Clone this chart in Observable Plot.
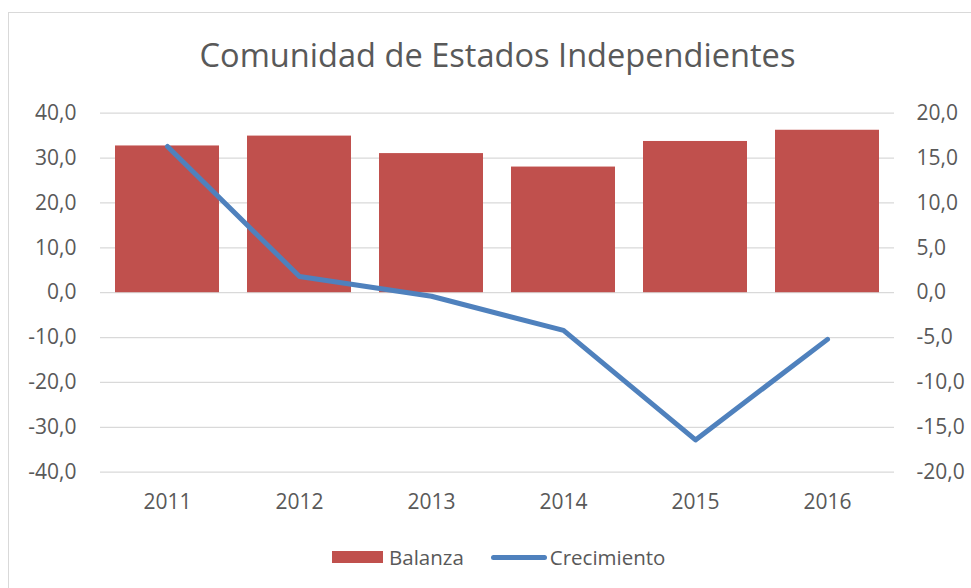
<!DOCTYPE html>
<html>
<head>
<meta charset="utf-8">
<script src="https://cdn.jsdelivr.net/npm/d3@7"></script>
<script src="https://cdn.jsdelivr.net/npm/@observablehq/plot@0.6"></script>
<style>
  html, body { margin: 0; padding: 0; background: #fff; overflow: hidden; }
  #wrap { position: relative; width: 971px; height: 588px; overflow: hidden; font-family: "Open Sans", sans-serif; color: #595959; }
  #frame { position: absolute; left: 8px; top: 12px; width: 1200px; height: 1200px; border: 1px solid #D9D9D9; }
  #title { position: absolute; left: 0; width: 995px; top: 32.5px; text-align: center; font-size: 32.6px; line-height: 1.362; white-space: nowrap; }
  #chart { position: absolute; left: 0; top: 0; }
  #legend { position: absolute; left: 332px; top: 545px; height: 24px; display: flex; align-items: center; font-size: 20.5px; line-height: 24px; }
  .sw-bar { width: 51px; height: 12px; background: #C0504D; margin-right: 6px; }
  .sw-line { width: 56px; height: 5px; border-radius: 3px; background: #4F81BD; margin-left: 27px; margin-right: 3px; }
</style>
</head>
<body>
<div id="wrap">
  <div id="frame"></div>
  <div id="chart"></div>
  <div id="title">Comunidad de Estados Independientes</div>
  <div id="legend">
    <div class="sw-bar"></div><span>Balanza</span>
    <div class="sw-line"></div><span>Crecimiento</span>
  </div>
</div>
<script>
const years = ["2011", "2012", "2013", "2014", "2015", "2016"];
const balanza = [32.7, 34.9, 31.0, 28.0, 33.7, 36.2];
const crecimiento = [16.3, 1.8, -0.4, -4.2, -16.4, -5.2];
const leftTicks = [-40, -30, -20, -10, 0, 10, 20, 30, 40];
const rightFactor = 2; // left axis spans -40..40, right axis -20..20

const barData = years.map((y, i) => ({year: y, value: balanza[i]}));
const lineData = years.map((y, i) => ({year: y, value: crecimiento[i]}));
const fmt = d => d.toFixed(1).replace(".", ",");

const chart = Plot.plot({
  width: 971,
  height: 530,
  marginTop: 112.7,
  marginBottom: 58.3,
  marginLeft: 100,
  marginRight: 77,
  style: {fontFamily: "Open Sans, sans-serif", fontSize: "21px", color: "#595959", background: "transparent", overflow: "visible"},
  x: {domain: years, paddingInner: 0.214, paddingOuter: 0.107, label: null},
  y: {domain: [-40, 40], label: null},
  marks: [
    Plot.ruleY(leftTicks, {stroke: "#D9D9D9", strokeWidth: 1.3}),
    Plot.barY(barData, {x: "year", y: "value", fill: "#C0504D"}),
    Plot.lineY(lineData, {x: "year", y: d => d.value * rightFactor, stroke: "#4F81BD", strokeWidth: 5, strokeLinejoin: "round", strokeLinecap: "round"}),
    Plot.axisY(leftTicks, {anchor: "left", tickSize: 0, tickPadding: 24, tickFormat: fmt, label: null}),
    Plot.axisY(leftTicks, {anchor: "right", tickSize: 0, tickPadding: 22, tickFormat: d => fmt(d / rightFactor), label: null}),
    Plot.axisX({tickSize: 0, tickPadding: 22, label: null})
  ]
});
document.getElementById("chart").appendChild(chart);
</script>
</body>
</html>
